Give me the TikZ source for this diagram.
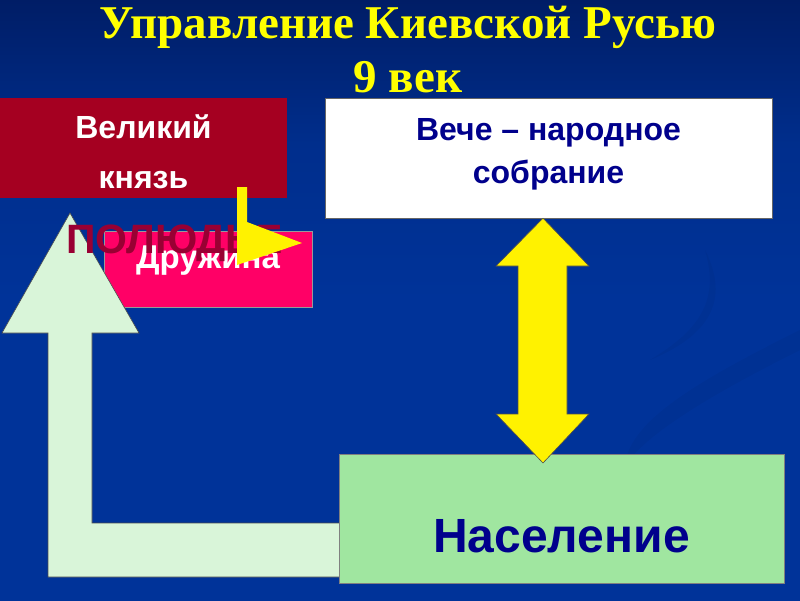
\documentclass[tikz,border=0pt]{standalone}
\usepackage{fontspec}
\setmainfont{Liberation Serif}
\setsansfont{Liberation Sans}
\usetikzlibrary{positioning}

\definecolor{princered}{RGB}{165,0,33}
\definecolor{druzhpink}{RGB}{255,0,102}
\definecolor{vecenavy}{RGB}{0,0,140}
\definecolor{popgreen}{RGB}{160,230,160}
\definecolor{paleg}{RGB}{217,245,217}
\definecolor{tributered}{RGB}{153,0,51}
\definecolor{titleyellow}{RGB}{255,255,0}

\pgfdeclareverticalshading{slidebg}{100bp}{
  rgb(0bp)=(0,0.2,0.6);
  rgb(50bp)=(0,0.2,0.6);
  rgb(63bp)=(0,0.18,0.55);
  rgb(83bp)=(0,0.07,0.3);
  rgb(100bp)=(0.02,0.04,0.16)}

\begin{document}
\begin{tikzpicture}[
  x=1pt, y=-1pt,
  box/.style={inner sep=0pt, align=center, font=\sffamily\bfseries},
  blockarrow/.style={draw=black!70, line width=0.6pt, line join=miter},
  heading/.style={font=\fontsize{47}{54}\selectfont\bfseries, text=titleyellow, align=center}
]
\useasboundingbox (0,0) rectangle (800,600);
\shade [shading=slidebg] (0,0) rectangle (800,600);
% faint swooshes in the background
\fill [black, opacity=0.04] (800,330) .. controls (700,380) and (630,420) .. (625,465)
  .. controls (650,430) and (720,390) .. (800,350) -- cycle;
\fill [black, opacity=0.04] (705,250) .. controls (720,300) and (700,330) .. (650,360)
  .. controls (710,335) and (730,300) .. (705,250) -- cycle;

% title
\node [heading, anchor=base] (title) at (408,92) {Управление Киевской Русью\\9 век};

% boxes
\node [box, fill=princered, text=white, minimum width=287pt, minimum height=100pt,
       text height=80pt, text depth=0pt,
       font=\sffamily\bfseries\fontsize{32}{50}\selectfont] (prince) at (143.5,148) {Великий\\князь};
\node [box, fill=white, draw=black!60, text=vecenavy, minimum width=447pt, minimum height=120pt,
       text height=55pt, text depth=5pt,
       font=\sffamily\bfseries\fontsize{32}{43}\selectfont] (veche) at (548.5,158) {Вече – народное\\собрание};
\node [box, fill=druzhpink, draw=black!40, text=white, minimum width=208pt, minimum height=76pt,
       text height=24pt, text depth=26pt,
       font=\sffamily\bfseries\fontsize{33}{40}\selectfont] (druzh) at (208,269) {Дружина};

% pale arrow up from the people
\filldraw [blockarrow, fill=paleg] (70,213) -- (139,333) -- (92,333) -- (92,523) -- (340,523)
  -- (340,577) -- (48,577) -- (48,333) -- (2,333) -- cycle;

\node [box, text=tributered, font=\sffamily\bfseries\fontsize{41}{48}\selectfont, anchor=base west]
  (tribute) at (66,253) {ПОЛЮДЬЕ};

% bent arrow to the retinue
\fill [yellow] (237,187) -- (247,187) -- (247,222) -- (302,243) -- (237,265) -- cycle;

\node [box, fill=popgreen, draw=black!50, text=vecenavy, minimum width=445pt, minimum height=129pt,
       text height=67pt, text depth=0pt,
       font=\sffamily\bfseries\fontsize{48}{56}\selectfont] (people) at (561.5,518.5) {Население};

% double arrow veche <-> people
\filldraw [blockarrow, fill=yellow] (543,0 |- veche.south) -- (589,266) -- (567,266) -- (567,414) -- (589,414)
  -- (543,463) -- (496,414) -- (518,414) -- (518,266) -- (496,266) -- cycle;
\end{tikzpicture}
\end{document}
